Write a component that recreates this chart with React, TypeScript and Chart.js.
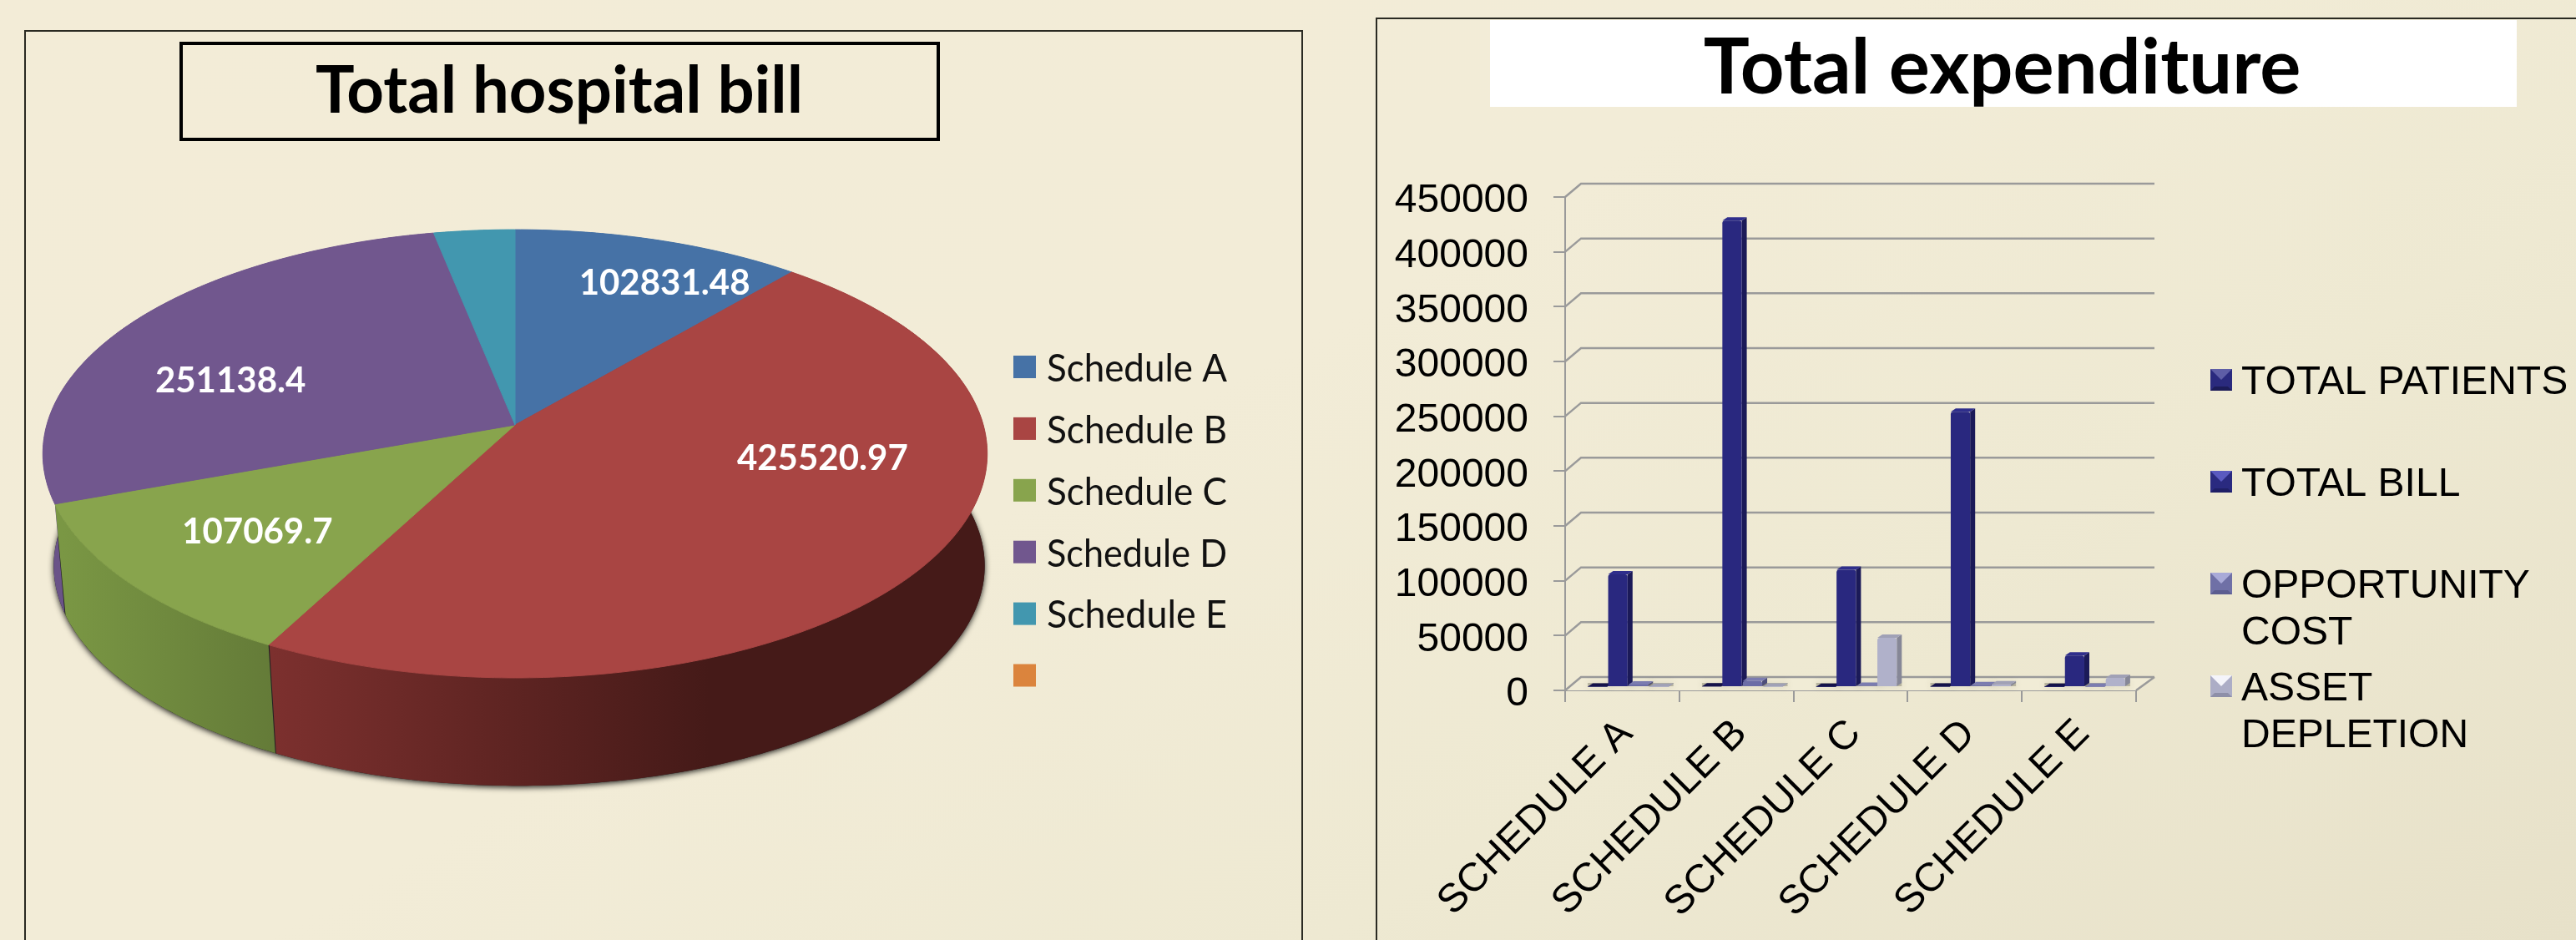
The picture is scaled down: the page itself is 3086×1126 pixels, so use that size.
import React, { useEffect, useRef } from "react";
import { Chart, registerables } from "chart.js";

Chart.register(...registerables);

// ---------- data ----------
const pieLabels = ["Schedule A", "Schedule B", "Schedule C", "Schedule D", "Schedule E", ""];
const pieValues = [102831.48, 425520.97, 107069.7, 251138.4, 28700, 0];

const barCategories = ["SCHEDULE A", "SCHEDULE B", "SCHEDULE C", "SCHEDULE D", "SCHEDULE E"];
const totalPatients = [310, 560, 220, 390, 120];
const totalBill = [102831.48, 425520.97, 107069.7, 251138.4, 28700];
const opportunityCost = [2200, 5500, 1200, 1800, 300];
const assetDepletion = [250, 400, 45000, 2400, 8400];
const barSeriesNames = ["TOTAL PATIENTS", "TOTAL BILL", "OPPORTUNITY COST", "ASSET DEPLETION"];

// ---------- styles ----------
const W = 3086;
const H = 1126;
const pieColors = ["#4672A6", "#A94543", "#88A44D", "#71578E", "#4297AF", "#DB843D"];
const sideFills: any[] = [
  { c0: "#3A5F8A", c1: "#3A5F8A", x0: 0, x1: 1 },
  { c0: "#7C302E", c1: "#451A18", x0: 327, x1: 850 },
  { c0: "#7A9744", c1: "#647B38", x0: 75, x1: 327 },
  { c0: "#6A5388", c1: "#6A5388", x0: 0, x1: 1 },
  { c0: "#36798C", c1: "#36798C", x0: 0, x1: 1 },
  { c0: "#B06A30", c1: "#B06A30", x0: 0, x1: 1 },
];
// angle shift (deg) from the slice middle and radial fraction of each value label
const pieLabelPlacement: any[] = [
  { shift: 6, r: 0.788 },
  { shift: -21.7, r: 0.66 },
  { shift: 0, r: 0.688 },
  { shift: -10.4, r: 0.66 },
  null,
  null,
];
const K = 0.1286;
const topRim = { cx: 617, cy: 509, rx: 561, ry: 264 };
const bottomRim = { cx: 622, cy: 644, rx: 553, ry: 259 };
const project = (t: number, rim: any, r = 1) => {
  const u = r * Math.cos(t);
  const v = r * Math.sin(t);
  const w = 1 - K * v;
  return [rim.cx + (rim.rx * u) / w, rim.cy + (rim.ry * v) / w];
};
const STEP = Math.PI / 240;

const PIE_LABEL_FONT = "Lato";
const barFace = ["#1E1D66", "#29287F", "#6C6DA6", "#B0B1CA"];
const barSide = ["#13123F", "#1B1A58", "#4D4E7A", "#868797"];
const barTop = ["#14124A", "#2F2E8C", "#7B7CB0", "#A0A1B6"];
const swatchBase = ["#2A2A7E", "#2A2A80", "#6F70A6", "#ACADC6"];
const swatchLight = ["#5E5EA6", "#5A5AC0", "#A9AAD8", "#F4F4FA"];
const swatchDark = ["#1C1C58", "#1F1F66", "#5C5D90", "#8E8FA8"];
const barLegendLines = [["TOTAL PATIENTS"], ["TOTAL BILL"], ["OPPORTUNITY", "COST"], ["ASSET", "DEPLETION"]];
const GRID = "#9A9A9A";
const DEPTH_X = 19;
const DEPTH_Y = 16;
const BAR_SHIFT_X = 7;
const BAR_SHIFT_Y = 4;
const BAR_DX = 6;
const BAR_DY = 4;

const panelFrame = (ctx: any, x: number, y: number, right: number) => {
  ctx.save();
  ctx.strokeStyle = "#2A2A22";
  ctx.lineWidth = 2;
  ctx.beginPath();
  ctx.moveTo(x, H);
  ctx.lineTo(x, y);
  ctx.lineTo(right, y);
  ctx.lineTo(right, H);
  ctx.stroke();
  ctx.restore();
};

const piePlugin = {
  id: "pie3d",
  afterLayout(chart: any) {
    const t = chart.titleBlock;
    t.left = 378;
    t.right = 962;
    t.top = 71;
    t.bottom = 149;
  },
  beforeDraw(chart: any) {
    const ctx = chart.ctx;
    panelFrame(ctx, 30, 37, 1560);
    ctx.save();
    ctx.strokeStyle = "#000";
    ctx.lineWidth = 4;
    ctx.strokeRect(217, 52, 907, 115);
    ctx.restore();
  },
  beforeDatasetsDraw(chart: any) {
    const ctx = chart.ctx;
    const arcs = chart.getDatasetMeta(0).data;

    // drop shadow below the pie
    ctx.save();
    ctx.shadowColor = "rgba(0,0,0,0.85)";
    ctx.shadowBlur = 7;
    ctx.shadowOffsetY = 2;
    ctx.fillStyle = "#222";
    ctx.beginPath();
    for (let t = 0; t < Math.PI * 2; t += STEP) {
      const [x, y] = project(t, bottomRim);
      if (t === 0) ctx.moveTo(x, y);
      else ctx.lineTo(x, y);
    }
    ctx.closePath();
    ctx.fill();
    ctx.restore();

    // sides, back to front
    const order = arcs
      .map((a: any, i: number) => i)
      .sort((a: number, b: number) => {
        const ma = (arcs[a].startAngle + arcs[a].endAngle) / 2;
        const mb = (arcs[b].startAngle + arcs[b].endAngle) / 2;
        return Math.sin(ma) - Math.sin(mb);
      });
    order.forEach((i: number) => {
      const a = arcs[i];
      if (a.endAngle - a.startAngle < 1e-4) return;
      const f = sideFills[i];
      const g = ctx.createLinearGradient(f.x0, 0, f.x1, 0);
      g.addColorStop(0, f.c0);
      g.addColorStop(1, f.c1);
      ctx.fillStyle = g;
      ctx.beginPath();
      let first = true;
      for (let t = a.startAngle; t <= a.endAngle + 1e-6; t += STEP) {
        const [x, y] = project(t, topRim);
        if (first) ctx.moveTo(x, y);
        else ctx.lineTo(x, y);
        first = false;
      }
      for (let t = a.endAngle; t >= a.startAngle - 1e-6; t -= STEP) {
        const [x, y] = project(t, bottomRim);
        ctx.lineTo(x, y);
      }
      ctx.closePath();
      ctx.fill();
    });

    // top face
    arcs.forEach((a: any, i: number) => {
      if (a.endAngle - a.startAngle < 1e-4) return;
      ctx.fillStyle = pieColors[i];
      ctx.strokeStyle = pieColors[i];
      ctx.lineWidth = 1;
      ctx.beginPath();
      ctx.moveTo(topRim.cx, topRim.cy);
      for (let t = a.startAngle; t < a.endAngle; t += STEP) {
        const [x, y] = project(t, topRim);
        ctx.lineTo(x, y);
      }
      const [ex, ey] = project(a.endAngle, topRim);
      ctx.lineTo(ex, ey);
      ctx.closePath();
      ctx.fill();
      ctx.stroke();
    });

    // value labels
    ctx.save();
    ctx.fillStyle = "#fff";
    ctx.font = `bold 42px ${PIE_LABEL_FONT}`;
    ctx.textAlign = "center";
    ctx.textBaseline = "middle";
    arcs.forEach((a: any, i: number) => {
      const p = pieLabelPlacement[i];
      if (!p) return;
      const mid = (a.startAngle + a.endAngle) / 2 + (p.shift * Math.PI) / 180;
      const [x, y] = project(mid, topRim, p.r);
      ctx.fillText(String(pieValues[i]), x, y + 2, (String(pieValues[i]).length > 8 ? 206 : 182));
    });
    ctx.restore();

    return false;
  },
  afterDraw(chart: any) {
    // legend
    const ctx = chart.ctx;
    ctx.save();
    ctx.textBaseline = "middle";
    ctx.textAlign = "left";
    ctx.font = "46px Lato";
    pieLabels.forEach((label, i) => {
      const y = 440 + i * 73.9;
      ctx.fillStyle = pieColors[i];
      ctx.fillRect(1214, y - 14, 27, 27);
      if (label) {
        ctx.fillStyle = "#111";
        ctx.fillText(label, 1254, y + 2, 216);
      }
    });
    ctx.restore();
  },
};

const drawPoly = (ctx: any, pts: number[][], fill: string) => {
  ctx.fillStyle = fill;
  ctx.beginPath();
  pts.forEach((p, i) => (i ? ctx.lineTo(p[0], p[1]) : ctx.moveTo(p[0], p[1])));
  ctx.closePath();
  ctx.fill();
};

const barPlugin = {
  id: "bar3d",
  afterLayout(chart: any) {
    const t = chart.titleBlock;
    t.left = 2040;
    t.right = 2757;
    t.top = 36;
    t.bottom = 128;
  },
  beforeDraw(chart: any) {
    const ctx = chart.ctx;
    panelFrame(ctx, 1649, 22, W + 4);
    ctx.fillStyle = "#fff";
    ctx.fillRect(1785, 24, 1230, 104);
  },
  beforeDatasetsDraw(chart: any) {
    const ctx = chart.ctx;
    const { left, right, bottom } = chart.chartArea;
    const yScale = chart.scales.y;
    ctx.save();
    // floor
    drawPoly(
      ctx,
      [
        [left, bottom],
        [left + DEPTH_X, bottom - DEPTH_Y],
        [right + DEPTH_X + 3, bottom - DEPTH_Y],
        [right, bottom],
      ],
      "#F1ECD6"
    );
    // back grid lines and their diagonal returns, at the scale's ticks
    ctx.strokeStyle = GRID;
    ctx.lineWidth = 2.5;
    yScale.ticks.forEach((t: any) => {
      const y = yScale.getPixelForValue(t.value);
      ctx.beginPath();
      ctx.moveTo(left, y);
      ctx.lineTo(left + DEPTH_X, y - DEPTH_Y);
      ctx.lineTo(right + DEPTH_X + 3, y - DEPTH_Y);
      ctx.stroke();
    });
    ctx.beginPath();
    ctx.moveTo(right + DEPTH_X + 3, bottom - DEPTH_Y);
    ctx.lineTo(right, bottom);
    ctx.stroke();

    ctx.translate(BAR_SHIFT_X, -BAR_SHIFT_Y);

    // soft contact shadows on the floor
    ctx.save();
    ctx.shadowColor = "rgba(70,70,50,0.55)";
    ctx.shadowBlur = 8;
    ctx.fillStyle = "rgba(70,70,50,0.3)";
    chart.data.datasets.forEach((_: any, di: number) => {
      chart.getDatasetMeta(di).data.forEach((b: any) => {
        ctx.fillRect(b.x - b.width / 2, b.base - BAR_DY, b.width + BAR_DX, BAR_DY);
      });
    });
    ctx.restore();

    // bar sides and tops
    chart.data.datasets.forEach((_: any, di: number) => {
      chart.getDatasetMeta(di).data.forEach((b: any) => {
        const l = b.x - b.width / 2;
        const r = b.x + b.width / 2;
        drawPoly(
          ctx,
          [
            [r, b.y],
            [r + BAR_DX, b.y - BAR_DY],
            [r + BAR_DX, b.base - BAR_DY],
            [r, b.base],
          ],
          barSide[di]
        );
        drawPoly(
          ctx,
          [
            [l, b.y],
            [l + BAR_DX, b.y - BAR_DY],
            [r + BAR_DX, b.y - BAR_DY],
            [r, b.y],
          ],
          barTop[di]
        );
      });
    });
    ctx.restore();
  },
  beforeDatasetDraw(chart: any) {
    chart.ctx.save();
    chart.ctx.translate(BAR_SHIFT_X, -BAR_SHIFT_Y);
  },
  afterDatasetDraw(chart: any) {
    chart.ctx.restore();
  },
  afterDraw(chart: any) {
    // legend
    const ctx = chart.ctx;
    const rows = [455, 577, 699, 822];
    ctx.save();
    ctx.textBaseline = "middle";
    ctx.textAlign = "left";
    ctx.font = "48px 'Liberation Sans'";
    barLegendLines.forEach((lines, i) => {
      const y = rows[i];
      const x0 = 2648;
      const s = 26;
      const y0 = y - 13;
      ctx.fillStyle = swatchBase[i];
      ctx.fillRect(x0, y0, s, s);
      drawPoly(ctx, [[x0, y0], [x0 + s, y0], [x0 + s / 2, y0 + s / 2]], swatchLight[i]);
      drawPoly(ctx, [[x0, y0 + s], [x0 + s, y0 + s], [x0 + s - 5, y0 + s - 5], [x0 + 5, y0 + s - 5]], swatchDark[i]);
      ctx.fillStyle = "#000";
      lines.forEach((line, j) => ctx.fillText(line, 2685, y + 4 + j * 55.5));
    });
    ctx.restore();
  },
};

export default function App() {
  const pieRef = useRef<HTMLCanvasElement>(null);
  const barRef = useRef<HTMLCanvasElement>(null);

  useEffect(() => {
    document.body.style.margin = "0";
    const pie = new Chart(pieRef.current as any, {
      type: "pie",
      data: {
        labels: pieLabels,
        datasets: [{ data: pieValues, backgroundColor: pieColors, borderWidth: 0 }],
      },
      options: {
        responsive: false,
        animation: false,
        events: [],
        layout: { padding: 0 },
        plugins: {
          legend: { display: false },
          tooltip: { enabled: false },
          title: {
            display: true,
            text: "Total hospital bill",
            color: "#000",
            padding: 0,
            font: { family: "Lato", size: 78, weight: "bold", lineHeight: 1 },
          },
        },
      },
      plugins: [piePlugin],
    } as any);

    const seriesValues = [totalPatients, totalBill, opportunityCost, assetDepletion];
    const bar = new Chart(barRef.current as any, {
      type: "bar",
      data: {
        labels: barCategories,
        datasets: barSeriesNames.map((name, i) => ({
          label: name,
          data: seriesValues[i],
          backgroundColor: barFace[i],
          borderWidth: 0,
          borderRadius: { topLeft: 3, topRight: 3 },
          clip: false,
          categoryPercentage: 0.715,
          barPercentage: 0.95,
        })),
      },
      options: {
        responsive: false,
        animation: false,
        events: [],
        layout: { padding: { left: 1650, right: W - 2559, top: 144, bottom: 0 } },
        plugins: {
          legend: { display: false },
          tooltip: { enabled: false },
          title: {
            display: true,
            text: "Total expenditure",
            color: "#000",
            padding: 0,
            font: { family: "Lato", size: 92, weight: "bold", lineHeight: 1 },
          },
        },
        scales: {
          y: {
            min: 0,
            max: 450000,
            afterFit: (s: any) => {
              s.width = 225;
            },
            ticks: {
              stepSize: 50000,
              padding: 30,
              labelOffset: 5,
              color: "#000",
              font: { family: "'Liberation Sans'", size: 48 },
              callback: (v: any) => String(v),
            },
            grid: { drawOnChartArea: false, color: GRID, lineWidth: 2, tickLength: 14 },
            border: { color: GRID, width: 2 },
          },
          x: {
            afterFit: (s: any) => {
              s.height = H - 827;
            },
            ticks: {
              autoSkip: false,
              minRotation: 45,
              maxRotation: 45,
              padding: 10,
              labelOffset: 5,
              color: "#000",
              font: { family: "'Liberation Sans'", size: 48 },
            },
            grid: { drawOnChartArea: false, color: GRID, lineWidth: 2, tickLength: 14, offset: true },
            border: { color: GRID, width: 2 },
          },
        },
      },
      plugins: [barPlugin],
    } as any);

    return () => {
      pie.destroy();
      bar.destroy();
    };
  }, []);

  const canvasStyle: React.CSSProperties = { position: "absolute", left: 0, top: 0 };
  return (
    <div
      style={{
        position: "fixed",
        left: 0,
        top: 0,
        width: W,
        height: H,
        overflow: "hidden",
        background: "linear-gradient(150deg, #F3ECD7 0%, #F2ECD7 45%, #EEE9D2 70%, #E7E1C9 100%)",
      }}
    >
      <canvas ref={pieRef} width={W} height={H} style={canvasStyle} />
      <canvas ref={barRef} width={W} height={H} style={canvasStyle} />
    </div>
  );
}
